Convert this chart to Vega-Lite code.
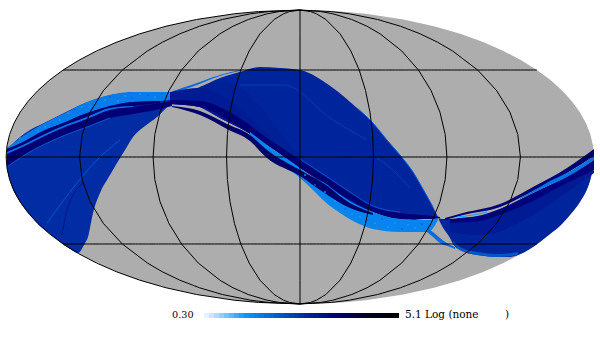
{"$schema":"https://vega.github.io/schema/vega-lite/v6.json","width":600,"height":345,"padding":0,"autosize":{"type":"none"},"background":"white","config":{"view":{"stroke":null}},
"datasets":{"bands":[
{"s":"a","v":2.75,"x":-293,"y":9,"y2":-12},{"s":"a","v":2.75,"x":-290,"y":11,"y2":-24},{"s":"a","v":2.75,"x":-280,"y":20,"y2":-45},{"s":"a","v":2.75,"x":-270,"y":27,"y2":-58},{"s":"a","v":2.75,"x":-260,"y":32,"y2":-69},{"s":"a","v":2.75,"x":-250,"y":37,"y2":-77},{"s":"a","v":2.75,"x":-240,"y":42,"y2":-85},{"s":"a","v":2.75,"x":-230,"y":47,"y2":-92},{"s":"a","v":2.75,"x":-222,"y":51,"y2":-96},{"s":"a","v":2.75,"x":-215,"y":54,"y2":-86},{"s":"a","v":2.75,"x":-212,"y":55,"y2":-80},{"s":"a","v":2.75,"x":-207,"y":57,"y2":-56},{"s":"a","v":2.75,"x":-200,"y":59,"y2":-36},{"s":"a","v":2.75,"x":-190,"y":62,"y2":-18},{"s":"a","v":2.75,"x":-183,"y":63,"y2":-6},{"s":"a","v":2.75,"x":-175,"y":64,"y2":7},{"s":"a","v":2.75,"x":-167,"y":65,"y2":20},{"s":"a","v":2.75,"x":-155,"y":65,"y2":31},{"s":"a","v":2.75,"x":-143,"y":65,"y2":40},{"s":"a","v":2.75,"x":-130,"y":65,"y2":53},
{"s":"b","v":1.7,"x":-293,"y":9,"y2":8},{"s":"b","v":1.7,"x":-277,"y":21,"y2":15},{"s":"b","v":1.7,"x":-257,"y":33,"y2":26},{"s":"b","v":1.7,"x":-237,"y":43,"y2":34},{"s":"b","v":1.7,"x":-213,"y":55,"y2":44},{"s":"b","v":1.7,"x":-190,"y":62,"y2":51},{"s":"b","v":1.7,"x":-167,"y":65,"y2":55},{"s":"b","v":1.7,"x":-140,"y":65,"y2":56},{"s":"b","v":1.7,"x":-128,"y":65,"y2":58},{"s":"b","v":1.7,"x":-122,"y":64,"y2":62},
{"s":"c","v":3.5,"x":-293,"y":8,"y2":5},{"s":"c","v":3.5,"x":-277,"y":15,"y2":12},{"s":"c","v":3.5,"x":-257,"y":26,"y2":22},{"s":"c","v":3.5,"x":-237,"y":34,"y2":31},{"s":"c","v":3.5,"x":-213,"y":44,"y2":40},{"s":"c","v":3.5,"x":-190,"y":51,"y2":49},{"s":"c","v":3.5,"x":-167,"y":55,"y2":51},{"s":"c","v":3.5,"x":-140,"y":56,"y2":54},
{"s":"d","v":1.8,"x":-293,"y":5,"y2":3},{"s":"d","v":1.8,"x":-277,"y":12,"y2":10},{"s":"d","v":1.8,"x":-257,"y":22,"y2":20},{"s":"d","v":1.8,"x":-237,"y":31,"y2":29},{"s":"d","v":1.8,"x":-213,"y":40,"y2":38},{"s":"d","v":1.8,"x":-190,"y":49,"y2":47},{"s":"d","v":1.8,"x":-167,"y":51,"y2":50},
{"s":"e","v":3.5,"x":-293,"y":3,"y2":-10},{"s":"e","v":3.5,"x":-277,"y":10,"y2":1},{"s":"e","v":3.5,"x":-257,"y":20,"y2":12},{"s":"e","v":3.5,"x":-237,"y":29,"y2":21},{"s":"e","v":3.5,"x":-213,"y":38,"y2":30},{"s":"e","v":3.5,"x":-190,"y":47,"y2":39},{"s":"e","v":3.5,"x":-167,"y":50,"y2":43},{"s":"e","v":3.5,"x":-140,"y":54,"y2":48},{"s":"e","v":3.5,"x":-128,"y":56,"y2":51},
{"s":"q","v":1.9,"x":-127,"y":66,"y2":64},{"s":"q","v":1.9,"x":-103,"y":74,"y2":72},{"s":"q","v":1.9,"x":-80,"y":82,"y2":81},{"s":"q","v":1.9,"x":-60,"y":87,"y2":86},
{"s":"f","v":2.85,"x":-130,"y":65,"y2":53},{"s":"f","v":2.85,"x":-122,"y":63,"y2":53},{"s":"f","v":2.85,"x":-100,"y":70,"y2":50},{"s":"f","v":2.85,"x":-80,"y":79,"y2":39},{"s":"f","v":2.85,"x":-60,"y":85,"y2":29},{"s":"f","v":2.85,"x":-40,"y":90,"y2":17},{"s":"f","v":2.85,"x":-20,"y":89,"y2":4},{"s":"f","v":2.85,"x":0,"y":87,"y2":-11},{"s":"f","v":2.85,"x":33,"y":69,"y2":-33},{"s":"f","v":2.85,"x":57,"y":49,"y2":-49},{"s":"f","v":2.85,"x":73,"y":34,"y2":-55},{"s":"f","v":2.85,"x":87,"y":17,"y2":-59},{"s":"f","v":2.85,"x":100,"y":2,"y2":-62},{"s":"f","v":2.85,"x":113,"y":-15,"y2":-63},{"s":"f","v":2.85,"x":123,"y":-32,"y2":-62},{"s":"f","v":2.85,"x":133,"y":-50,"y2":-61},{"s":"f","v":2.85,"x":138,"y":-60,"y2":-61},
{"s":"g2","v":2.92,"x":-100,"y":70,"y2":50},{"s":"g2","v":2.92,"x":-80,"y":75,"y2":39},{"s":"g2","v":2.92,"x":-60,"y":70,"y2":29},{"s":"g2","v":2.92,"x":-40,"y":50,"y2":17},{"s":"g2","v":2.92,"x":-20,"y":25,"y2":4},{"s":"g2","v":2.92,"x":0,"y":0,"y2":-11},
{"s":"g","v":3.0,"x":-130,"y":65,"y2":53},{"s":"g","v":3.0,"x":-100,"y":69,"y2":50},{"s":"g","v":3.0,"x":-80,"y":62,"y2":39},{"s":"g","v":3.0,"x":-60,"y":48,"y2":29},{"s":"g","v":3.0,"x":-40,"y":30,"y2":17},{"s":"g","v":3.0,"x":-20,"y":8,"y2":4},
{"s":"h","v":3.5,"x":-130,"y":57,"y2":53},{"s":"h","v":3.5,"x":-100,"y":56,"y2":50},{"s":"h","v":3.5,"x":-67,"y":43,"y2":34},{"s":"h","v":3.5,"x":-33,"y":19,"y2":12},{"s":"h","v":3.5,"x":0,"y":-3,"y2":-11},{"s":"h","v":3.5,"x":23,"y":-18,"y2":-25},{"s":"h","v":3.5,"x":50,"y":-36,"y2":-43},{"s":"h","v":3.5,"x":73,"y":-50,"y2":-55},{"s":"h","v":3.5,"x":100,"y":-56,"y2":-62},{"s":"h","v":3.5,"x":133,"y":-59,"y2":-62},{"s":"h","v":3.5,"x":140,"y":-60,"y2":-61},
{"s":"i","v":1.6,"x":-50,"y":25,"y2":22},{"s":"i","v":1.6,"x":-33,"y":12,"y2":4},{"s":"i","v":1.6,"x":0,"y":-11,"y2":-21},{"s":"i","v":1.6,"x":13,"y":-21,"y2":-33},{"s":"i","v":1.6,"x":23,"y":-25,"y2":-43},{"s":"i","v":1.6,"x":40,"y":-38,"y2":-56},{"s":"i","v":1.6,"x":57,"y":-48,"y2":-66},{"s":"i","v":1.6,"x":73,"y":-55,"y2":-72},{"s":"i","v":1.6,"x":100,"y":-62,"y2":-75},{"s":"i","v":1.6,"x":128,"y":-63,"y2":-75},{"s":"i","v":1.6,"x":138,"y":-61,"y2":-63},
{"s":"j","v":3.6,"x":-128,"y":51,"y2":50},{"s":"j","v":3.6,"x":-100,"y":46,"y2":42},{"s":"j","v":3.6,"x":-73,"y":33,"y2":28},{"s":"j","v":3.6,"x":-50,"y":22,"y2":16},{"s":"j","v":3.6,"x":-33,"y":7,"y2":-1},{"s":"j","v":3.6,"x":0,"y":-13,"y2":-19},{"s":"j","v":3.6,"x":23,"y":-26,"y2":-35},{"s":"j","v":3.6,"x":50,"y":-46,"y2":-51},{"s":"j","v":3.6,"x":73,"y":-56,"y2":-58},
{"s":"k","v":2.85,"x":139,"y":-61,"y2":-63},{"s":"k","v":2.85,"x":142,"y":-62,"y2":-69},{"s":"k","v":2.85,"x":150,"y":-62,"y2":-81},{"s":"k","v":2.85,"x":153,"y":-62,"y2":-87},{"s":"k","v":2.85,"x":160,"y":-61,"y2":-93},{"s":"k","v":2.85,"x":177,"y":-59,"y2":-98},{"s":"k","v":2.85,"x":200,"y":-52,"y2":-100},{"s":"k","v":2.85,"x":210,"y":-48,"y2":-100},{"s":"k","v":2.85,"x":218,"y":-44,"y2":-98},{"s":"k","v":2.85,"x":230,"y":-38,"y2":-92},{"s":"k","v":2.85,"x":240,"y":-33,"y2":-85},{"s":"k","v":2.85,"x":250,"y":-28,"y2":-77},{"s":"k","v":2.85,"x":260,"y":-23,"y2":-69},{"s":"k","v":2.85,"x":270,"y":-17,"y2":-58},{"s":"k","v":2.85,"x":280,"y":-12,"y2":-45},{"s":"k","v":2.85,"x":290,"y":-6,"y2":-24},{"s":"k","v":2.85,"x":294,"y":-3,"y2":-8},
{"s":"r","v":3.0,"x":150,"y":-66,"y2":-75},{"s":"r","v":3.0,"x":180,"y":-64,"y2":-78},{"s":"r","v":3.0,"x":233,"y":-44,"y2":-58},{"s":"r","v":3.0,"x":267,"y":-26,"y2":-35},{"s":"r","v":3.0,"x":294,"y":-13,"y2":-16},
{"s":"l","v":2.2,"x":153,"y":-84,"y2":-87},{"s":"l","v":2.2,"x":160,"y":-90,"y2":-93},{"s":"l","v":2.2,"x":177,"y":-95,"y2":-98},{"s":"l","v":2.2,"x":200,"y":-97,"y2":-100},{"s":"l","v":2.2,"x":218,"y":-95,"y2":-98},
{"s":"m","v":3.5,"x":145,"y":-61,"y2":-63},{"s":"m","v":3.5,"x":163,"y":-56,"y2":-58},{"s":"m","v":3.5,"x":200,"y":-47,"y2":-50},{"s":"m","v":3.5,"x":233,"y":-30,"y2":-34},{"s":"m","v":3.5,"x":267,"y":-11,"y2":-16},{"s":"m","v":3.5,"x":294,"y":8,"y2":1},
{"s":"n","v":3.4,"x":150,"y":-62,"y2":-66},{"s":"n","v":3.4,"x":180,"y":-59,"y2":-64},{"s":"n","v":3.4,"x":200,"y":-52,"y2":-58},{"s":"n","v":3.4,"x":233,"y":-36,"y2":-44},{"s":"n","v":3.4,"x":267,"y":-20,"y2":-26},{"s":"n","v":3.4,"x":294,"y":-3,"y2":-13},
{"s":"o","v":1.8,"x":220,"y":-41,"y2":-42},{"s":"o","v":1.8,"x":233,"y":-34,"y2":-36},{"s":"o","v":1.8,"x":250,"y":-24,"y2":-28},{"s":"o","v":1.8,"x":267,"y":-16,"y2":-20},{"s":"o","v":1.8,"x":294,"y":1,"y2":-3},
{"s":"p","v":1.9,"x":127,"y":-71,"y2":-75},{"s":"p","v":1.9,"x":133,"y":-75,"y2":-80},{"s":"p","v":1.9,"x":140,"y":-81,"y2":-86},{"s":"p","v":1.9,"x":150,"y":-88,"y2":-90},{"s":"p","v":1.9,"x":155,"y":-90,"y2":-92}
],
"streaks":[
{"s":"s1","v":2.2,"x":-253,"y":-66},{"s":"s1","v":2.2,"x":-223,"y":-26},{"s":"s1","v":2.2,"x":-203,"y":-3},{"s":"s1","v":2.2,"x":-180,"y":17},
{"s":"s2","v":2.5,"x":-60,"y":72},{"s":"s2","v":2.5,"x":-17,"y":72},{"s":"s2","v":2.5,"x":33,"y":37},{"s":"s2","v":2.5,"x":67,"y":17},
{"s":"s3","v":3.1,"x":-238,"y":-78},{"s":"s3","v":3.1,"x":-233,"y":-53},{"s":"s3","v":3.1,"x":-217,"y":-26},
{"s":"s4","v":2.1,"x":-293,"y":-10},{"s":"s4","v":2.1,"x":-277,"y":1},{"s":"s4","v":2.1,"x":-257,"y":12},{"s":"s4","v":2.1,"x":-237,"y":21},{"s":"s4","v":2.1,"x":-213,"y":30},{"s":"s4","v":2.1,"x":-190,"y":39},
{"s":"s5","v":2.2,"x":0,"y":-2},{"s":"s5","v":2.2,"x":23,"y":-17},{"s":"s5","v":2.2,"x":50,"y":-35},{"s":"s5","v":2.2,"x":73,"y":-49},{"s":"s5","v":2.2,"x":100,"y":-55},
{"s":"s6","v":2.0,"x":57,"y":49},{"s":"s6","v":2.0,"x":73,"y":34},{"s":"s6","v":2.0,"x":87,"y":17},{"s":"s6","v":2.0,"x":100,"y":2},{"s":"s6","v":2.0,"x":113,"y":-15},{"s":"s6","v":2.0,"x":123,"y":-32},{"s":"s6","v":2.0,"x":133,"y":-50},
{"s":"s7","v":2.5,"x":77,"y":-1},{"s":"s7","v":2.5,"x":93,"y":-13},{"s":"s7","v":2.5,"x":110,"y":-31},
{"s":"s8","v":1.3,"x":157,"y":-60},{"s":"s8","v":1.3,"x":173,"y":-58},{"s":"s8","v":1.3,"x":187,"y":-55}
],
"specks":[
{"x":-280,"y":19,"v":1.3},{"x":-270,"y":22,"v":1.95},{"x":-262,"y":26,"v":1.3},{"x":-255,"y":30,"v":1.3},{"x":-248,"y":33,"v":1.95},{"x":-240,"y":37,"v":1.3},{"x":-232,"y":44,"v":1.3},{"x":-225,"y":47,"v":1.95},{"x":-218,"y":50,"v":1.3},{"x":-210,"y":50,"v":1.3},{"x":-203,"y":53,"v":1.95},{"x":-195,"y":57,"v":1.3},{"x":-190,"y":60,"v":1.95},{"x":-182,"y":56,"v":1.3},{"x":-175,"y":61,"v":1.3},{"x":-168,"y":59,"v":1.95},{"x":-160,"y":63,"v":1.3},{"x":-152,"y":62,"v":1.95},{"x":-145,"y":60,"v":1.3},{"x":-138,"y":63,"v":1.95},
{"x":5,"y":-18,"v":1.3},{"x":15,"y":-28,"v":1.95},{"x":25,"y":-35,"v":1.3},{"x":35,"y":-44,"v":1.3},{"x":45,"y":-52,"v":1.95},{"x":52,"y":-57,"v":1.3},{"x":60,"y":-60,"v":1.3},{"x":68,"y":-63,"v":1.95},{"x":75,"y":-66,"v":1.3},{"x":82,"y":-62,"v":1.95},{"x":88,"y":-70,"v":1.3},{"x":95,"y":-66,"v":1.3},{"x":102,"y":-72,"v":1.95},{"x":108,"y":-68,"v":1.3},{"x":115,"y":-71,"v":1.3},{"x":122,"y":-67,"v":1.95}
],
"bar":[
{"x":-101,"x2":-96,"v":0.30,"y":-156,"y2":-161},{"x":-96,"x2":-91,"v":0.42,"y":-156,"y2":-161},{"x":-91,"x2":-86,"v":0.54,"y":-156,"y2":-161},{"x":-86,"x2":-81,"v":0.66,"y":-156,"y2":-161},{"x":-81,"x2":-76,"v":0.78,"y":-156,"y2":-161},{"x":-76,"x2":-71,"v":0.90,"y":-156,"y2":-161},{"x":-71,"x2":-66,"v":1.02,"y":-156,"y2":-161},{"x":-66,"x2":-61,"v":1.14,"y":-156,"y2":-161},{"x":-61,"x2":-56,"v":1.26,"y":-156,"y2":-161},{"x":-56,"x2":-51,"v":1.38,"y":-156,"y2":-161},{"x":-51,"x2":-46,"v":1.50,"y":-156,"y2":-161},{"x":-46,"x2":-41,"v":1.62,"y":-156,"y2":-161},{"x":-41,"x2":-36,"v":1.74,"y":-156,"y2":-161},{"x":-36,"x2":-31,"v":1.86,"y":-156,"y2":-161},{"x":-31,"x2":-26,"v":1.98,"y":-156,"y2":-161},{"x":-26,"x2":-21,"v":2.10,"y":-156,"y2":-161},{"x":-21,"x2":-16,"v":2.22,"y":-156,"y2":-161},{"x":-16,"x2":-11,"v":2.34,"y":-156,"y2":-161},{"x":-11,"x2":-6,"v":2.46,"y":-156,"y2":-161},{"x":-6,"x2":-1,"v":2.58,"y":-156,"y2":-161},{"x":-1,"x2":4,"v":2.70,"y":-156,"y2":-161},{"x":4,"x2":9,"v":2.82,"y":-156,"y2":-161},{"x":9,"x2":14,"v":2.94,"y":-156,"y2":-161},{"x":14,"x2":19,"v":3.06,"y":-156,"y2":-161},{"x":19,"x2":24,"v":3.18,"y":-156,"y2":-161},{"x":24,"x2":29,"v":3.30,"y":-156,"y2":-161},{"x":29,"x2":34,"v":3.42,"y":-156,"y2":-161},{"x":34,"x2":39,"v":3.54,"y":-156,"y2":-161},{"x":39,"x2":44,"v":3.66,"y":-156,"y2":-161},{"x":44,"x2":49,"v":3.78,"y":-156,"y2":-161},{"x":49,"x2":54,"v":3.90,"y":-156,"y2":-161},{"x":54,"x2":59,"v":4.02,"y":-156,"y2":-161},{"x":59,"x2":64,"v":4.14,"y":-156,"y2":-161},{"x":64,"x2":69,"v":4.26,"y":-156,"y2":-161},{"x":69,"x2":74,"v":4.38,"y":-156,"y2":-161},{"x":74,"x2":79,"v":4.50,"y":-156,"y2":-161},{"x":79,"x2":84,"v":4.62,"y":-156,"y2":-161},{"x":84,"x2":89,"v":4.74,"y":-156,"y2":-161},{"x":89,"x2":94,"v":4.86,"y":-156,"y2":-161},{"x":94,"x2":99,"v":5.10,"y":-156,"y2":-161}
]},
"layer":[
{"data":{"sphere":true},"mark":{"type":"geoshape","fill":"#adadad","stroke":null},"projection":{"type":"mollweide","scale":103.9,"translate":[300,157]}},
{"encoding":{"x":{"field":"x","type":"quantitative","scale":{"domain":[-300,300],"nice":false,"zero":false},"axis":null},"y":{"field":"y","type":"quantitative","scale":{"domain":[-188,157],"nice":false,"zero":false},"axis":null},"color":{"field":"v","type":"quantitative","legend":null,"scale":{"domain":[0.3,1.36,2.85,3.47,4.4,5.1],"range":["#ffffff","#0a96ff","#00249c","#000078","#00001c","#000000"],"interpolate":"rgb"}}},
"layer":[
{"data":{"name":"bands"},"mark":{"type":"area","interpolate":"monotone"},"encoding":{"y2":{"field":"y2"},"detail":{"field":"s"}}},
{"data":{"name":"streaks"},"mark":{"type":"line","interpolate":"monotone","strokeWidth":1},"encoding":{"detail":{"field":"s"}}},
{"data":{"name":"specks"},"mark":{"type":"square","size":3,"opacity":1,"filled":true}},
{"data":{"name":"bar"},"mark":{"type":"rect"},"encoding":{"x2":{"field":"x2"},"y2":{"field":"y2"}}},
{"data":{"values":[{"t":"0.30","x":-128,"y":-158}]},"mark":{"type":"text","align":"left","baseline":"middle","font":"DejaVu Serif","fontSize":9.7},"encoding":{"text":{"field":"t"},"color":{"value":"#000000"}}},
{"data":{"values":[{"t":"5.1 Log (none","x":105,"y":-158},{"t":")","x":205,"y":-158}]},"mark":{"type":"text","align":"left","baseline":"middle","font":"DejaVu Serif","fontSize":10.5},"encoding":{"text":{"field":"t"},"color":{"value":"#000000"}}}
]},
{"data":{"graticule":{"step":[45,45]}},"mark":{"type":"geoshape","filled":false,"stroke":"#000000","strokeWidth":1},"projection":{"type":"mollweide","scale":103.9,"translate":[300,157]}}
]}
